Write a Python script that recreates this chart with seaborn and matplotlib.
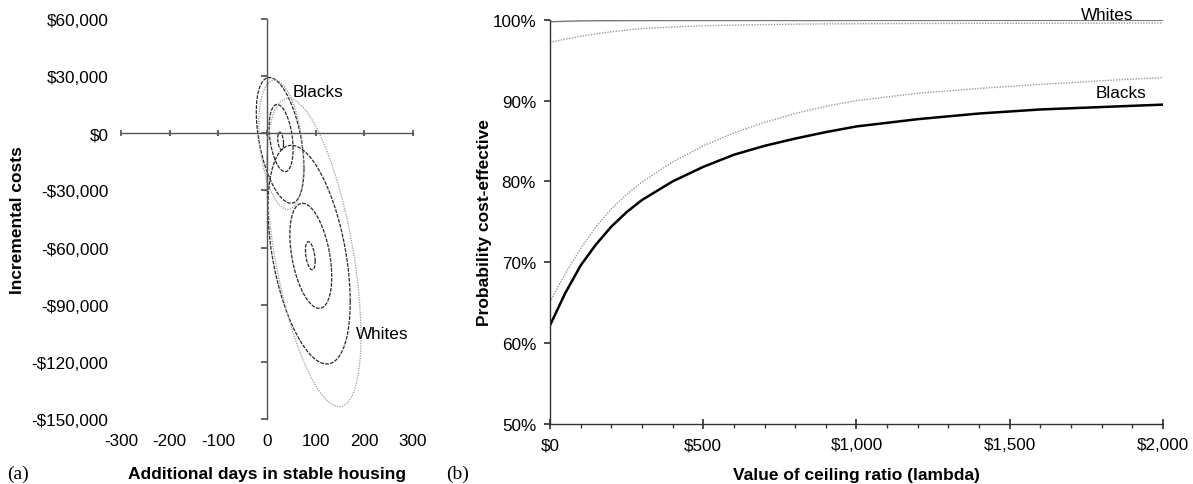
import matplotlib
matplotlib.use("Agg")
import matplotlib.pyplot as plt
from matplotlib.ticker import MultipleLocator
import seaborn as sns
import numpy as np

# ---- panel (a): joint distribution ellipses ----
x_ticks = [-300, -200, -100, 0, 100, 200, 300]
y_ticks = [60000, 30000, 0, -30000, -60000, -90000, -120000, -150000]
y_tick_labels = ['$60,000', '$30,000', '$0', '-$30,000', '-$60,000',
                 '-$90,000', '-$120,000', '-$150,000']

# one entry per ellipse: centre, half-width (days), half-height ($), correlation
ell_group = ['Blacks', 'Blacks', 'Blacks', 'Blacks', 'Whites', 'Whites', 'Whites', 'Whites']
ell_kind = ['dark', 'dark', 'dark', 'gray', 'dark', 'dark', 'dark', 'gray']
ell_mx = [28, 29, 27, 29, 89, 90, 86.5, 96]
ell_my = [-4000, -2500, -3700, -6000, -64300, -64300, -63700, -62550]
ell_sx = [6, 24.6, 49, 46, 10, 43, 84.5, 97]
ell_sy = [4600, 17650, 33000, 34000, 7400, 27600, 57400, 80950]
ell_rho = [-0.3, -0.33, -0.45, -0.3, -0.4, -0.4, -0.43, -0.54]

# ---- panel (b): acceptability curves ----
lam = [0, 50, 100, 150, 200, 250, 300, 400, 500, 600, 700, 800, 900, 1000,
       1200, 1400, 1600, 1800, 2000]
blacks_main = [62.2, 66.2, 69.6, 72.2, 74.4, 76.2, 77.7, 80.0, 81.8, 83.3, 84.4, 85.3,
               86.1, 86.8, 87.7, 88.4, 88.9, 89.2, 89.5]
blacks_alt = [65.1, 68.6, 71.7, 74.4, 76.6, 78.4, 79.9, 82.4, 84.4, 86.0, 87.3, 88.4,
              89.3, 90.0, 90.9, 91.5, 92.0, 92.45, 92.85]
whites_main = [99.75, 99.8, 99.85, 99.87, 99.88, 99.89, 99.89, 99.9, 99.9, 99.9, 99.9,
               99.9, 99.9, 99.91, 99.91, 99.91, 99.92, 99.92, 99.92]
whites_alt = [97.2, 97.6, 97.95, 98.25, 98.5, 98.72, 98.9, 99.1, 99.25, 99.33, 99.4,
              99.45, 99.48, 99.5, 99.53, 99.55, 99.57, 99.58, 99.6]
lam_ticks = [0, 500, 1000, 1500, 2000]
lam_tick_labels = ['$0', '$500', '$1,000', '$1,500', '$2,000']
p_ticks = [50, 60, 70, 80, 90, 100]
p_tick_labels = ['50%', '60%', '70%', '80%', '90%', '100%']

sns.set_theme(style='white')
plt.rcParams['font.family'] = ['Liberation Sans', 'DejaVu Sans']
plt.rcParams['text.color'] = 'black'
plt.rcParams['axes.labelcolor'] = 'black'
plt.rcParams['xtick.color'] = 'black'
plt.rcParams['ytick.color'] = 'black'

fig = plt.figure(figsize=(11.93, 4.85), dpi=100)

# ---------------- (a) ----------------
ax1 = fig.add_axes([0.1014, 0.134, 0.2448, 0.8247])
ax1.set_xlim(-300, 300)
ax1.set_ylim(-150000, 60000)

t = np.linspace(0, 2 * np.pi, 240)
for i in range(len(ell_mx)):
    ex = ell_mx[i] + ell_sx[i] * np.cos(t)
    ey = ell_my[i] + ell_sy[i] * (ell_rho[i] * np.cos(t) + np.sqrt(1 - ell_rho[i] ** 2) * np.sin(t))
    if ell_kind[i] == 'dark':
        sns.lineplot(x=ex, y=ey, sort=False, estimator=None, ax=ax1, color='#2a2a2a',
                     lw=0.9, linestyle=(0, (3, 1)))
    else:
        sns.lineplot(x=ex, y=ey, sort=False, estimator=None, ax=ax1, color='#9a9a9a',
                     lw=0.9, linestyle=(0, (1, 1)))

for side in ['top', 'right']:
    ax1.spines[side].set_visible(False)
ax1.spines['left'].set_position(('data', 0))
ax1.spines['bottom'].set_position(('data', 0))
for side in ['left', 'bottom']:
    ax1.spines[side].set_color('#555555')
    ax1.spines[side].set_linewidth(1.0)
ax1.set_xticks(x_ticks)
ax1.set_yticks(y_ticks)
ax1.tick_params(axis='x', direction='inout', length=5, color='#555555',
                labelbottom=False, bottom=True)
ax1.tick_params(axis='y', direction='out', length=4, color='#555555',
                labelleft=False, left=True)

sec_y = ax1.secondary_yaxis('left')
sec_y.set_yticks(y_ticks, labels=y_tick_labels)
sec_y.spines['left'].set_visible(False)
sec_y.tick_params(length=0, pad=9, labelsize=12.3, labelcolor='black')
sec_y.set_ylabel('Incremental costs', fontsize=12.5, fontweight='bold', labelpad=5)

sec_x = ax1.secondary_xaxis('bottom')
sec_x.set_xticks(x_ticks, labels=[str(v) for v in x_ticks])
sec_x.spines['bottom'].set_visible(False)
sec_x.tick_params(length=0, pad=10, labelsize=12.3, labelcolor='black')
sec_x.set_xlabel('Additional days in stable housing', fontsize=12.5,
                 fontweight='bold', labelpad=13)

ax1.text(105, 22000, 'Blacks', fontsize=12.3, ha='center', va='center')
ax1.text(236, -105000, 'Whites', fontsize=12.3, ha='center', va='center')

# ---------------- (b) ----------------
ax2 = fig.add_axes([0.4610, 0.1237, 0.5138, 0.8336])
ax2.set_xlim(0, 2000)
ax2.set_ylim(50, 100)

sns.lineplot(x=lam, y=whites_main, ax=ax2, color='#777777', lw=1.0)
sns.lineplot(x=lam, y=whites_alt, ax=ax2, color='#999999', lw=1.0, linestyle=(0, (1, 1)))
sns.lineplot(x=lam, y=blacks_alt, ax=ax2, color='#999999', lw=1.0, linestyle=(0, (1, 1)))
sns.lineplot(x=lam, y=blacks_main, ax=ax2, color='black', lw=1.8)

for side in ['top', 'right']:
    ax2.spines[side].set_visible(False)
for side in ['left', 'bottom']:
    ax2.spines[side].set_color('#333333')
    ax2.spines[side].set_linewidth(1.0)
ax2.set_xticks(lam_ticks, labels=lam_tick_labels)
ax2.xaxis.set_minor_locator(MultipleLocator(100))
ax2.set_yticks(p_ticks, labels=p_tick_labels)
ax2.tick_params(axis='x', which='major', direction='inout', length=7, color='#333333',
                bottom=True, pad=6, labelsize=12.3)
ax2.tick_params(axis='x', which='minor', direction='out', length=3, color='#333333',
                bottom=True)
ax2.tick_params(axis='y', direction='out', length=4, color='#333333', left=True,
                pad=6, labelsize=12.3)
ax2.set_xlabel('Value of ceiling ratio (lambda)', fontsize=12.5, fontweight='bold',
               labelpad=11)
ax2.set_ylabel('Probability cost-effective', fontsize=12.5, fontweight='bold',
               labelpad=0)

ax2.text(1817, 100.7, 'Whites', fontsize=12.3, ha='center', va='center', clip_on=False)
ax2.text(1862, 91.0, 'Blacks', fontsize=12.3, ha='center', va='center')

fig.text(0.006, 0.004, '(a)', fontsize=14, family=['Liberation Serif', 'DejaVu Serif'],
         ha='left', va='bottom')
fig.text(0.374, 0.004, '(b)', fontsize=14, family=['Liberation Serif', 'DejaVu Serif'],
         ha='left', va='bottom')

fig.savefig('out.png', dpi=100)
